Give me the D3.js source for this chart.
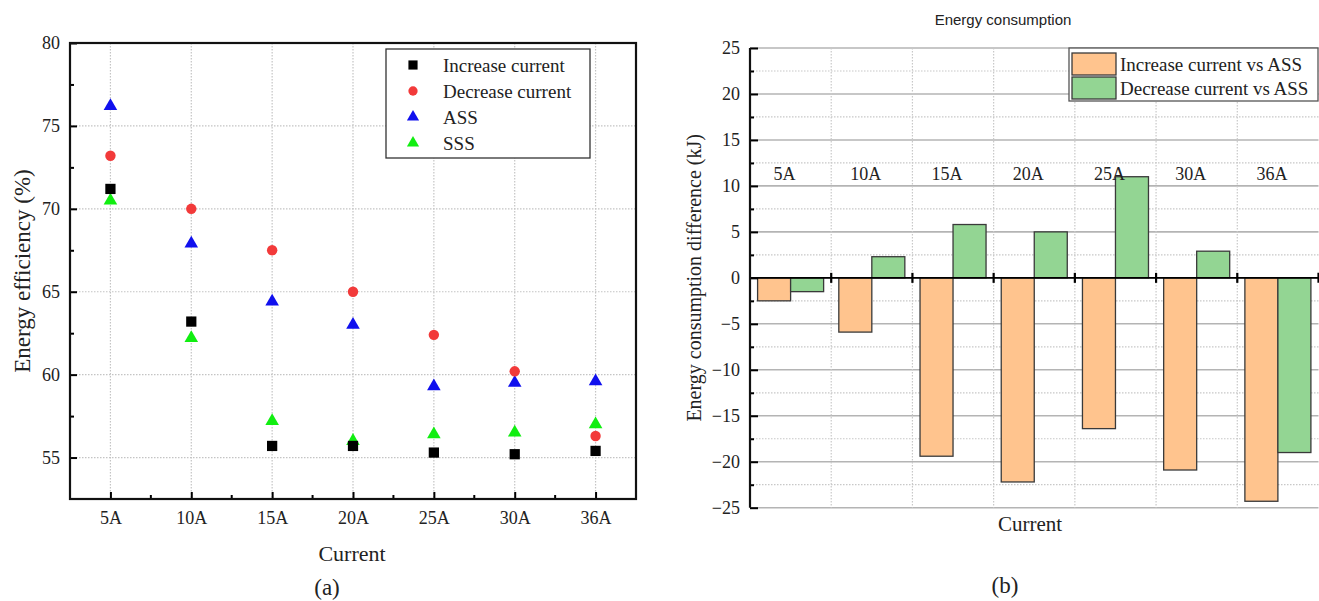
<!DOCTYPE html>
<html lang="en">
<head>
    <meta charset="UTF-8">
    <title>Energy efficiency and consumption</title>
    <script src="https://d3js.org/d3.v7.min.js"></script>
    <style>
        body { margin: 0; background: #fff; }
    </style>
</head>
<body>
    <svg id="chart" width="1319" height="601"></svg>

    <script>
        // categories shared by both panels
        const categories = ["5A", "10A", "15A", "20A", "25A", "30A", "36A"];

        // (a) energy efficiency (%)
        const increaseCurrent = [71.2, 63.2, 55.7, 55.7, 55.3, 55.2, 55.4];
        const decreaseCurrent = [73.2, 70.0, 67.5, 65.0, 62.4, 60.2, 56.3];
        const assEff = [76.2, 67.9, 64.4, 63.0, 59.3, 59.5, 59.6];
        const sssEff = [70.5, 62.2, 57.2, 56.0, 56.4, 56.5, 57.0];
        const effTicks = [55, 60, 65, 70, 75, 80];
        const effMinor = [57.5, 62.5, 67.5, 72.5, 77.5];

        // (b) energy consumption difference (kJ)
        const increaseVsAss = [-2.5, -5.9, -19.4, -22.2, -16.4, -20.9, -24.3];
        const decreaseVsAss = [-1.5, 2.3, 5.8, 5.0, 11.0, 2.9, -19.0];
        const diffTicks = [-25, -20, -15, -10, -5, 0, 5, 10, 15, 20, 25];
        const diffMinor = [-22.5, -17.5, -12.5, -7.5, -2.5, 2.5, 7.5, 12.5, 17.5, 22.5];

        const SERIF = '"Liberation Serif", "Times New Roman", serif';
        const SANS = '"Liberation Sans", Arial, sans-serif';

        const svg = d3.select("#chart");
        svg.append("rect").attr("width", 1319).attr("height", 601).attr("fill", "#fff");

        // ---------- panel (a) ----------
        const a = { left: 70, right: 636, top: 43, bottom: 499 };
        const xA = d3.scaleBand().domain(categories).range([a.left, a.right]);
        const cx = c => xA(c) + xA.bandwidth() / 2;
        const yA = d3.scaleLinear().domain([52.5, 80]).range([a.bottom, a.top]);

        const gA = svg.append("g");

        // dotted grid
        gA.selectAll(".hgrid").data(effTicks.filter(t => t < 80)).enter()
            .append("line")
            .attr("x1", a.left).attr("x2", a.right)
            .attr("y1", d => yA(d)).attr("y2", d => yA(d))
            .attr("stroke", "#c4c4c4").attr("stroke-width", 1.2)
            .attr("stroke-dasharray", "1.5,1.5");
        gA.selectAll(".vgrid").data(categories).enter()
            .append("line")
            .attr("x1", d => cx(d)).attr("x2", d => cx(d))
            .attr("y1", a.top).attr("y2", a.bottom)
            .attr("stroke", "#c4c4c4").attr("stroke-width", 1.2)
            .attr("stroke-dasharray", "1.5,1.5");

        // left axis, ticks inward
        gA.append("g")
            .attr("transform", "translate(" + a.left + ",0)")
            .call(d3.axisLeft(yA).tickValues(effTicks).tickSizeInner(-7).tickSizeOuter(0).tickPadding(10));
        gA.append("g")
            .attr("transform", "translate(" + a.left + ",0)")
            .call(d3.axisLeft(yA).tickValues(effMinor).tickSize(-4).tickFormat(""));

        // bottom axis, ticks inward
        gA.append("g")
            .attr("transform", "translate(0," + a.bottom + ")")
            .call(d3.axisBottom(d3.scalePoint().domain(categories).range([cx(categories[0]), cx(categories[6])]))
                .tickSizeInner(-7).tickSizeOuter(0).tickPadding(12));
        gA.selectAll(".minorx").data(categories.slice(1)).enter()
            .append("line")
            .attr("x1", d => xA(d)).attr("x2", d => xA(d))
            .attr("y1", a.bottom).attr("y2", a.bottom - 4)
            .attr("stroke", "#000").attr("stroke-width", 2);

        gA.selectAll(".domain").remove();
        gA.selectAll(".tick line").attr("stroke", "#000").attr("stroke-width", 2);
        gA.selectAll(".tick text").style("font-size", "18px").style("font-family", SERIF).attr("fill", "#222");

        // frame
        gA.append("rect")
            .attr("x", a.left).attr("y", a.top)
            .attr("width", a.right - a.left).attr("height", a.bottom - a.top)
            .attr("fill", "none").attr("stroke", "#111").attr("stroke-width", 2.2);

        // points
        const seriesA = [
            { name: "Increase current", values: increaseCurrent, type: d3.symbolSquare, size: 105, color: "#000000" },
            { name: "Decrease current", values: decreaseCurrent, type: d3.symbolCircle, size: 85, color: "#f23a3a" },
            { name: "ASS", values: assEff, type: d3.symbolTriangle, size: 80, color: "#1010ee" },
            { name: "SSS", values: sssEff, type: d3.symbolTriangle, size: 80, color: "#11ee11" }
        ];
        // triangles first, then circles, squares on top
        [seriesA[3], seriesA[2], seriesA[1], seriesA[0]].forEach(s => {
            gA.selectAll(null).data(categories).enter()
                .append("path")
                .attr("d", d3.symbol().type(s.type).size(s.size))
                .attr("transform", (d, i) => "translate(" + cx(d) + "," + yA(s.values[i]) + ")")
                .attr("fill", s.color);
        });

        // legend (a)
        const legA = gA.append("g");
        legA.append("rect")
            .attr("x", 386).attr("y", 49).attr("width", 204).attr("height", 109)
            .attr("fill", "#fff").attr("stroke", "#333").attr("stroke-width", 1.3);
        seriesA.forEach((s, i) => {
            const yy = 65 + i * 26;
            legA.append("path")
                .attr("d", d3.symbol().type(s.type).size(s.size * 0.8))
                .attr("transform", "translate(413," + yy + ")")
                .attr("fill", s.color);
            legA.append("text")
                .attr("x", 443).attr("y", yy).attr("dy", "0.35em")
                .style("font-family", SERIF).style("font-size", "19px").attr("fill", "#222")
                .text(s.name);
        });

        // axis titles (a)
        gA.append("text")
            .attr("transform", "translate(22," + ((a.top + a.bottom) / 2) + ") rotate(-90)")
            .attr("text-anchor", "middle").attr("dy", "0.35em")
            .style("font-family", SERIF).style("font-size", "23px").attr("fill", "#222")
            .text("Energy efficiency (%)");
        gA.append("text")
            .attr("x", 352).attr("y", 553).attr("dy", "0.35em")
            .attr("text-anchor", "middle")
            .style("font-family", SERIF).style("font-size", "22px").attr("fill", "#222")
            .text("Current");
        gA.append("text")
            .attr("x", 327).attr("y", 587).attr("dy", "0.35em")
            .attr("text-anchor", "middle")
            .style("font-family", SERIF).style("font-size", "23px").attr("fill", "#222")
            .text("(a)");

        // ---------- panel (b) ----------
        const b = { left: 750, right: 1318.5, top: 48, bottom: 507.7 };
        const xB = d3.scaleBand().domain(categories).range([b.left, b.right]);
        const xB1 = d3.scaleBand().domain(["inc", "dec"]).range([0, xB.bandwidth()])
            .paddingInner(0).paddingOuter(0.23);
        const yB = d3.scaleLinear().domain([-25, 25]).range([b.bottom, b.top]);

        const gB = svg.append("g");

        // grid: solid at major, dotted at minor, dotted verticals at band edges
        gB.selectAll(".hmajor").data(diffTicks).enter()
            .append("line")
            .attr("x1", b.left).attr("x2", b.right)
            .attr("y1", d => yB(d)).attr("y2", d => yB(d))
            .attr("stroke", "#b4b4b4").attr("stroke-width", 1.6);
        gB.selectAll(".hminor").data(diffMinor).enter()
            .append("line")
            .attr("x1", b.left).attr("x2", b.right)
            .attr("y1", d => yB(d)).attr("y2", d => yB(d))
            .attr("stroke", "#c8c8c8").attr("stroke-width", 1.2)
            .attr("stroke-dasharray", "1.5,1.5");
        gB.selectAll(".vgrid").data(categories.slice(1)).enter()
            .append("line")
            .attr("x1", d => xB(d)).attr("x2", d => xB(d))
            .attr("y1", b.top).attr("y2", b.bottom)
            .attr("stroke", "#c8c8c8").attr("stroke-width", 1.2)
            .attr("stroke-dasharray", "1.5,1.5");

        // bars
        const seriesB = [
            { key: "inc", name: "Increase current vs ASS", values: increaseVsAss, color: "#ffc48e" },
            { key: "dec", name: "Decrease current vs ASS", values: decreaseVsAss, color: "#93d593" }
        ];
        seriesB.forEach(s => {
            gB.selectAll(null).data(categories).enter()
                .append("rect")
                .attr("x", d => xB(d) + xB1(s.key))
                .attr("width", xB1.bandwidth())
                .attr("y", (d, i) => yB(Math.max(0, s.values[i])))
                .attr("height", (d, i) => Math.abs(yB(s.values[i]) - yB(0)))
                .attr("fill", s.color)
                .attr("stroke", "#3a3a3a").attr("stroke-width", 1.3);
        });

        // zero line with ticks at band edges
        gB.append("line")
            .attr("x1", b.left).attr("x2", b.right)
            .attr("y1", yB(0)).attr("y2", yB(0))
            .attr("stroke", "#000").attr("stroke-width", 1.6);
        gB.selectAll(".zt").data(categories).enter()
            .append("line")
            .attr("x1", d => xB(d) + xB.bandwidth()).attr("x2", d => xB(d) + xB.bandwidth())
            .attr("y1", yB(0) - 5).attr("y2", yB(0) + 5)
            .attr("stroke", "#000").attr("stroke-width", 2.2);

        // left axis, ticks inward
        gB.append("g")
            .attr("transform", "translate(" + b.left + ",0)")
            .call(d3.axisLeft(yB).tickValues(diffTicks).tickSizeInner(-8).tickSizeOuter(0).tickPadding(10));
        gB.append("g")
            .attr("transform", "translate(" + b.left + ",0)")
            .call(d3.axisLeft(yB).tickValues(diffMinor).tickSize(-4).tickFormat(""));
        gB.selectAll(".domain").remove();
        gB.selectAll(".tick line").attr("stroke", "#000").attr("stroke-width", 2);
        gB.selectAll(".tick text").style("font-size", "18px").style("font-family", SERIF).attr("fill", "#222");
        gB.append("line")
            .attr("x1", b.left).attr("x2", b.left)
            .attr("y1", b.top).attr("y2", b.bottom)
            .attr("stroke", "#111").attr("stroke-width", 2.2);

        // category labels inside the plot
        gB.selectAll(".cat").data(categories).enter()
            .append("text")
            .attr("x", d => xB(d) + xB.bandwidth() / 2 - 6)
            .attr("y", 180)
            .attr("text-anchor", "middle")
            .style("font-family", SERIF).style("font-size", "18px").attr("fill", "#222")
            .text(d => d);

        // legend (b)
        const legB = gB.append("g");
        legB.append("rect")
            .attr("x", 1069).attr("y", 48).attr("width", 249).attr("height", 53)
            .attr("fill", "#fff").attr("stroke", "#555").attr("stroke-width", 1.3);
        seriesB.forEach((s, i) => {
            legB.append("rect")
                .attr("x", 1072).attr("y", 53 + i * 24).attr("width", 44).attr("height", 22)
                .attr("fill", s.color).attr("stroke", "#3a3a3a").attr("stroke-width", 1.3);
            legB.append("text")
                .attr("x", 1120).attr("y", 64 + i * 24).attr("dy", "0.35em")
                .style("font-family", SERIF).style("font-size", "19px").attr("fill", "#222")
                .text(s.name);
        });

        // titles (b)
        gB.append("text")
            .attr("x", 1003).attr("y", 20).attr("dy", "0.35em")
            .attr("text-anchor", "middle")
            .style("font-family", SANS).style("font-size", "15px").attr("fill", "#222")
            .text("Energy consumption");
        gB.append("text")
            .attr("transform", "translate(694," + ((b.top + b.bottom) / 2) + ") rotate(-90)")
            .attr("text-anchor", "middle").attr("dy", "0.35em")
            .style("font-family", SERIF).style("font-size", "20px").attr("fill", "#222")
            .text("Energy consumption difference (kJ)");
        gB.append("text")
            .attr("x", 1030).attr("y", 524).attr("dy", "0.35em")
            .attr("text-anchor", "middle")
            .style("font-family", SERIF).style("font-size", "21px").attr("fill", "#222")
            .text("Current");
        gB.append("text")
            .attr("x", 1005).attr("y", 585).attr("dy", "0.35em")
            .attr("text-anchor", "middle")
            .style("font-family", SERIF).style("font-size", "23px").attr("fill", "#222")
            .text("(b)");
    </script>
</body>
</html>
